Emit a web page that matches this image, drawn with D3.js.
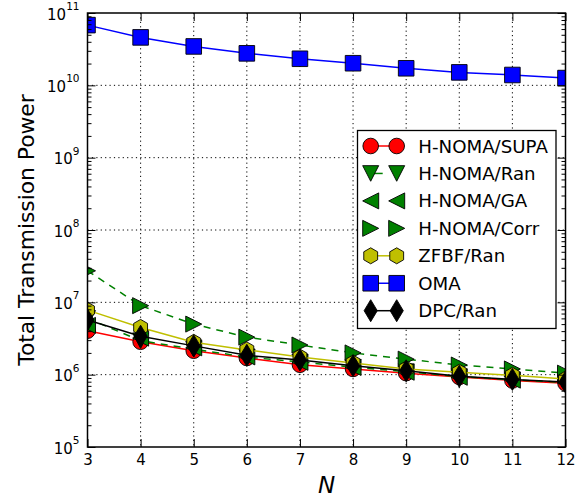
<!DOCTYPE html>
<html>
<head>
<meta charset="utf-8">
<script src="https://cdn.jsdelivr.net/npm/d3@7"></script>
<style>
  body { margin: 0; background: #fff; }
  text { font-family: "DejaVu Sans", sans-serif; }
</style>
</head>
<body>
<svg id="chart" width="585" height="497"></svg>
<script>
// Number of users N on the x axis
const nValues = [3, 4, 5, 6, 7, 8, 9, 10, 11, 12];

// Total transmission power per scheme
const supa = [4.05e6, 2.85e6, 2.14e6, 1.70e6, 1.37e6, 1.20e6, 1.05e6, 0.93e6, 0.83e6, 0.76e6];
const ran  = [6.0e6, 2.95e6, 2.25e6, 1.75e6, 1.50e6, 1.27e6, 1.10e6, 0.94e6, 0.85e6, 0.78e6];
const ga   = [4.8e6, 3.2e6, 2.35e6, 1.76e6, 1.48e6, 1.26e6, 1.08e6, 0.92e6, 0.84e6, 0.77e6];
const corr = [2.73e7, 9.0e6, 5.0e6, 3.3e6, 2.57e6, 2.0e6, 1.64e6, 1.36e6, 1.20e6, 1.05e6];
const zfbf = [7.8e6, 4.5e6, 2.8e6, 2.2e6, 1.75e6, 1.45e6, 1.20e6, 1.08e6, 0.98e6, 0.87e6];
const oma  = [6.8e10, 4.6e10, 3.45e10, 2.77e10, 2.33e10, 2.02e10, 1.72e10, 1.51e10, 1.39e10, 1.26e10];
const dpc  = [5.7e6, 3.4e6, 2.5e6, 1.85e6, 1.60e6, 1.33e6, 1.13e6, 0.95e6, 0.86e6, 0.79e6];

const seriesNames = ["H-NOMA/SUPA", "H-NOMA/Ran", "H-NOMA/GA", "H-NOMA/Corr", "ZFBF/Ran", "OMA", "DPC/Ran"];
const seriesValues = [supa, ran, ga, corr, zfbf, oma, dpc];

// Tick values
const xTickValues = nValues;
const yTickExponents = [5, 6, 7, 8, 9, 10, 11];

// Drawing styles, one per series
const styles = [
  { color: "#ff0000", marker: "circle",   dash: null,  line: true,  legendLine: true },
  { color: "#008000", marker: "triDown",  dash: "7,6", line: true,  legendLine: true },
  { color: "#008000", marker: "triLeft",  dash: "7,6", line: false, legendLine: false },
  { color: "#008000", marker: "triRight", dash: "7,6", line: true,  legendLine: false },
  { color: "#bfbf00", marker: "hexagon",  dash: null,  line: true,  legendLine: true },
  { color: "#0000ff", marker: "square",   dash: null,  line: true,  legendLine: true },
  { color: "#000000", marker: "thinDiamond", dash: null, line: true, legendLine: true }
];

const svg = d3.select("#chart");
const plotLeft = 87.5, plotRight = 565.5, plotTop = 13, plotBottom = 447;

const x = d3.scaleLinear().domain([3, 12]).range([plotLeft, plotRight]);
const y = d3.scaleLog().domain([1e5, 1e11]).range([plotBottom, plotTop]);

// Marker outlines centred on the origin
function markerPath(kind) {
  const p = d3.path();
  switch (kind) {
    case "circle": p.arc(0, 0, 7.8, 0, 2 * Math.PI); break;
    case "square": p.rect(-7.8, -7.8, 15.6, 15.6); break;
    case "triDown": p.moveTo(-8, -7.8); p.lineTo(8, -7.8); p.lineTo(0, 7.8); p.closePath(); break;
    case "triLeft": p.moveTo(-8, 0); p.lineTo(8, -8); p.lineTo(8, 8); p.closePath(); break;
    case "triRight": p.moveTo(8, 0); p.lineTo(-8, -8); p.lineTo(-8, 8); p.closePath(); break;
    case "hexagon": {
      const R = 8;
      for (let i = 0; i < 6; i++) {
        const a = -Math.PI / 2 + i * Math.PI / 3;
        const px = R * Math.cos(a), py = R * Math.sin(a);
        if (i === 0) p.moveTo(px, py); else p.lineTo(px, py);
      }
      p.closePath();
      break;
    }
    case "thinDiamond": p.moveTo(0, -11); p.lineTo(6.6, 0); p.lineTo(0, 11); p.lineTo(-6.6, 0); p.closePath(); break;
  }
  return p.toString();
}

// Clip region for the data
svg.append("defs").append("clipPath").attr("id", "plotClip")
  .append("rect").attr("x", plotLeft).attr("y", plotTop)
  .attr("width", plotRight - plotLeft).attr("height", plotBottom - plotTop);

// Dotted grid at major ticks
const grid = svg.append("g").attr("stroke", "#000").attr("stroke-width", 1).attr("stroke-dasharray", "1.2,3.2");
grid.selectAll("line.gx").data(xTickValues.filter(v => v > 3 && v < 12)).join("line")
  .attr("x1", d => x(d)).attr("x2", d => x(d)).attr("y1", plotTop).attr("y2", plotBottom);
grid.selectAll("line.gy").data(yTickExponents.filter(e => e > 5 && e < 11)).join("line")
  .attr("x1", plotLeft).attr("x2", plotRight)
  .attr("y1", e => y(Math.pow(10, e))).attr("y2", e => y(Math.pow(10, e)));

// Series: line followed by its markers
const plot = svg.append("g").attr("clip-path", "url(#plotClip)");
const lineGen = d3.line().x((d, i) => x(nValues[i])).y(d => y(d));
seriesValues.forEach((vals, si) => {
  const st = styles[si];
  const g = plot.append("g");
  if (st.line) {
    g.append("path").attr("d", lineGen(vals)).attr("fill", "none")
      .attr("stroke", st.color).attr("stroke-width", 1.5)
      .attr("stroke-dasharray", st.dash);
  }
  g.selectAll("path.m").data(vals).join("path").attr("class", "m")
    .attr("d", markerPath(st.marker))
    .attr("transform", (d, i) => `translate(${x(nValues[i])},${y(d)})`)
    .attr("fill", st.color).attr("stroke", "#000").attr("stroke-width", 0.9);
});

// Axes with inward ticks on all four sides
const minorY = [];
for (let e = 5; e < 11; e++) for (let m = 2; m <= 9; m++) minorY.push(m * Math.pow(10, e));
const majorY = yTickExponents.map(e => Math.pow(10, e));

const axisStyle = g => {
  g.select(".domain").remove();
  g.selectAll(".tick line").attr("stroke", "#000").attr("stroke-width", 1);
};

svg.append("g").attr("transform", `translate(0,${plotBottom})`)
  .call(d3.axisBottom(x).tickValues(xTickValues).tickSizeInner(-8).tickSizeOuter(0).tickPadding(7.8).tickFormat(d3.format("d")))
  .call(axisStyle)
  .call(g => g.selectAll("text").attr("font-size", 15).attr("font-family", "DejaVu Sans").attr("fill", "#000"));

svg.append("g").attr("transform", `translate(0,${plotTop})`)
  .call(d3.axisTop(x).tickValues(xTickValues).tickSizeInner(-8).tickSizeOuter(0).tickFormat(""))
  .call(axisStyle);

svg.append("g").attr("transform", `translate(${plotLeft},0)`)
  .call(d3.axisLeft(y).tickValues(majorY).tickSizeInner(-8).tickSizeOuter(0).tickPadding(8))
  .call(axisStyle)
  .call(g => g.selectAll(".tick text").each(function(d) {
    const t = d3.select(this).text(null)
      .attr("font-size", 15).attr("font-family", "DejaVu Sans").attr("fill", "#000").attr("dy", "0.4em");
    t.append("tspan").text("10");
    t.append("tspan").attr("dy", -9.5).attr("font-size", 10.5).text(Math.round(Math.log10(d)));
  }));

svg.append("g").attr("transform", `translate(${plotLeft},0)`)
  .call(d3.axisLeft(y).tickValues(minorY).tickSizeInner(-4).tickSizeOuter(0).tickFormat(""))
  .call(axisStyle);

svg.append("g").attr("transform", `translate(${plotRight},0)`)
  .call(d3.axisRight(y).tickValues(majorY).tickSizeInner(-8).tickSizeOuter(0).tickFormat(""))
  .call(axisStyle);

svg.append("g").attr("transform", `translate(${plotRight},0)`)
  .call(d3.axisRight(y).tickValues(minorY).tickSizeInner(-4).tickSizeOuter(0).tickFormat(""))
  .call(axisStyle);

// Frame
svg.append("rect").attr("x", plotLeft).attr("y", plotTop)
  .attr("width", plotRight - plotLeft).attr("height", plotBottom - plotTop)
  .attr("fill", "none").attr("stroke", "#000").attr("stroke-width", 1.5);

// Axis titles
svg.append("text").attr("x", 326.7).attr("y", 492.5).attr("text-anchor", "middle")
  .attr("font-family", "'Liberation Serif', serif").attr("font-style", "italic").attr("font-size", 23)
  .text("N");

svg.append("text").attr("transform", "translate(33.5,230) rotate(-90)").attr("text-anchor", "middle")
  .attr("font-size", 21.8).text("Total Transmission Power");

// Legend
const legend = svg.append("g");
legend.append("rect").attr("x", 357.5).attr("y", 130.5).attr("width", 198.5).attr("height", 198)
  .attr("fill", "#fff").attr("stroke", "#000").attr("stroke-width", 1.3);
const lx0 = 370.7, lx1 = 396.7, ly0 = 146, lstep = 27.45;
seriesNames.forEach((name, i) => {
  const st = styles[i];
  const cy = ly0 + i * lstep;
  const g = legend.append("g");
  if (st.legendLine) {
    g.append("line").attr("x1", lx0).attr("x2", lx1).attr("y1", cy).attr("y2", cy)
      .attr("stroke", st.color).attr("stroke-width", 1.5)
      .attr("stroke-dasharray", st.dash ? "12,20" : null);
  }
  [lx0, lx1].forEach(cx => {
    g.append("path").attr("d", markerPath(st.marker)).attr("transform", `translate(${cx},${cy})`)
      .attr("fill", st.color).attr("stroke", "#000").attr("stroke-width", 0.9);
  });
  g.append("text").attr("x", 418.3).attr("y", cy).attr("dy", "0.36em")
    .attr("font-size", 18.2).attr("fill", "#000").text(name);
});
</script>
</body>
</html>
